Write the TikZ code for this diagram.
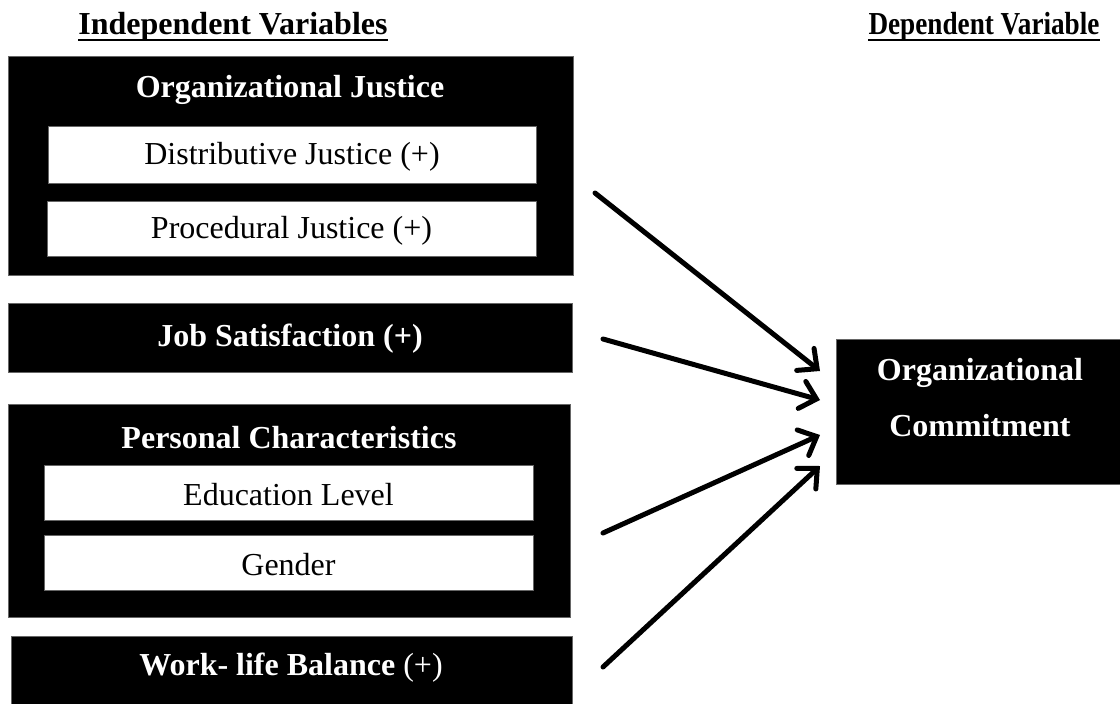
\documentclass[tikz,border=0pt]{standalone}
\usepackage{fontspec}
\setmainfont{Liberation Serif}
\usetikzlibrary{arrows.meta}
\tikzset{
  blackbox/.style={draw=black!60, line width=0.8pt, fill=black, inner sep=0pt},
  whitebox/.style={draw=black!60, line width=0.8pt, fill=white, inner sep=0pt},
  wtitle/.style={text=white, font=\fontsize{32}{38}\selectfont\bfseries, inner sep=0pt},
  btext/.style={text=black, font=\fontsize{32}{38}\selectfont, inner sep=0pt},
  htitle/.style={text=black, font=\fontsize{32}{38}\selectfont\bfseries, inner sep=0pt},
  uline/.style={line width=2pt},
  arr/.style={line width=5pt, line cap=round, -{Straight Barb[length=15pt,width=28pt,line cap=round]}}
}
\begin{document}
\begin{tikzpicture}[x=1pt,y=-1pt]
\useasboundingbox (0,0) rectangle (1120,704);
% headings
\node[htitle] (iv) at (233,27) {Independent Variables};
\draw[uline] ([yshift=-5pt]iv.base west) -- ([yshift=-5pt]iv.base east);
\node[htitle] (dv) at (984,27) {\scalebox{0.85}[1]{Dependent Variable}};
\draw[uline] ([yshift=-5pt]dv.base west) -- ([yshift=-5pt]dv.base east);
% Organizational Justice
\node[blackbox, minimum width=565, minimum height=219] (oj) at (290.5,165.5) {};
\node[wtitle] (ojt) at (290,90) {Organizational Justice};
\node[whitebox, minimum width=488, minimum height=57] (dj) at (292,154.5) {};
\node[btext] at ([yshift=-2pt]dj.center) {Distributive Justice (+)};
\node[whitebox, minimum width=489, minimum height=55] (pj) at (291.5,228.5) {};
\node[btext] at ([yshift=-2pt]pj.center) {Procedural Justice (+)};
% Job Satisfaction
\node[blackbox, minimum width=564, minimum height=69] (js) at (290,337.5) {};
\node[wtitle] at ([yshift=-1pt]js.center) {Job Satisfaction (+)};
% Personal characteristics
\node[blackbox, minimum width=562, minimum height=213] (pc) at (289,510.5) {};
\node[wtitle] (pct) at (289,438) {Personal Characteristics};
\node[whitebox, minimum width=489, minimum height=55] (el) at (288.5,492.5) {};
\node[btext] at ([yshift=-2pt]el.center) {Education Level};
\node[whitebox, minimum width=489, minimum height=55] (ge) at (288.5,562.5) {};
\node[btext] at ([yshift=-2pt]ge.center) {Gender};
% Work-life balance
\node[blackbox, minimum width=561, minimum height=70] (wl) at (291.5,671) {};
\node[wtitle] at (291,668) {Work- life Balance \mdseries(+)};
% Organizational Commitment
\node[blackbox, minimum width=286, minimum height=145] (oc) at (979,411.5) {};
\node[wtitle] (oc1) at (980,373) {Organizational};
\node[wtitle] (oc2) at (980,426) {Commitment};
% arrows
\coordinate (s1) at (595,193); \coordinate (t1) at (820,371);
\coordinate (s2) at (603,339); \coordinate (t2) at (820,400);
\coordinate (s3) at (603,533); \coordinate (t3) at (820,435);
\coordinate (s4) at (603,667); \coordinate (t4) at (820,466);
\draw[arr] (s1) -- (t1);
\draw[arr] (s2) -- (t2);
\draw[arr] (s3) -- (t3);
\draw[arr] (s4) -- (t4);
\end{tikzpicture}
\end{document}
